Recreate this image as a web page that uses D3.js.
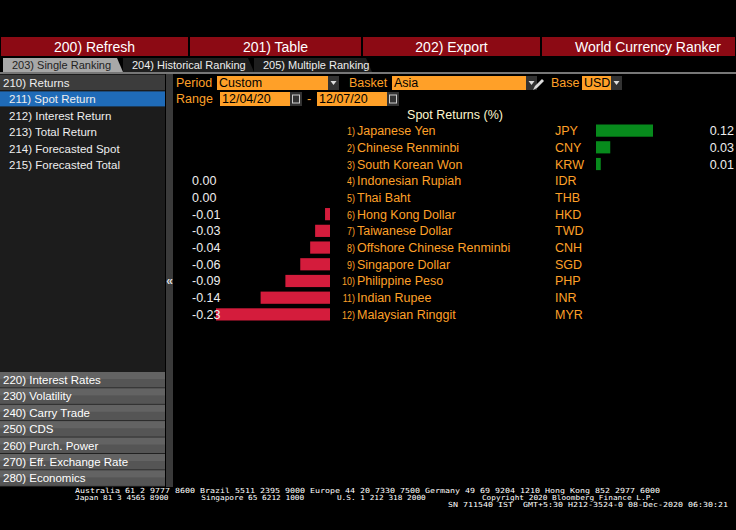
<!DOCTYPE html><html><head><meta charset="utf-8">
<script src="https://cdn.jsdelivr.net/npm/d3@7"></script>
<style>body{margin:0;background:#000}svg{display:block}text{font-family:"Liberation Sans",Arial,sans-serif}text.mono{font-family:"DejaVu Sans Mono",monospace}</style></head><body>
<svg id="c" width="736" height="530"></svg>
<script>
const ranks=["1)","2)","3)","4)","5)","6)","7)","8)","9)","10)","11)","12)"];
const names=["Japanese Yen","Chinese Renminbi","South Korean Won","Indonesian Rupiah","Thai Baht","Hong Kong Dollar","Taiwanese Dollar","Offshore Chinese Renminbi","Singapore Dollar","Philippine Peso","Indian Rupee","Malaysian Ringgit"];
const codes=["JPY","CNY","KRW","IDR","THB","HKD","TWD","CNH","SGD","PHP","INR","MYR"];
const values=[0.12,0.03,0.01,0.00,0.00,-0.01,-0.03,-0.04,-0.06,-0.09,-0.14,-0.23];
const labels=["0.12","0.03","0.01","0.00","0.00","-0.01","-0.03","-0.04","-0.06","-0.09","-0.14","-0.23"];
const topButtons=["200) Refresh","201) Table","202) Export","World Currency Ranker"];
const tabs=["203) Single Ranking","204) Historical Ranking","205) Multiple Ranking"];
const menuTop=["210) Returns","211) Spot Return","212) Interest Return","213) Total Return","214) Forecasted Spot","215) Forecasted Total"];
const menuBottom=["220) Interest Rates","230) Volatility","240) Carry Trade","250) CDS","260) Purch. Power","270) Eff. Exchange Rate","280) Economics"];

const svg=d3.select("#c");
const O="#ffa028";
const bx=[0,189,362,541,736];
topButtons.forEach((t,i)=>{
  svg.append("rect").attr("x",bx[i]+1).attr("y",37).attr("width",bx[i+1]-bx[i]-2).attr("height",19).attr("fill","#8c0a14");
  svg.append("text").attr("x",i==3?648:(bx[i]+bx[i+1])/2).attr("y",51.5).attr("text-anchor","middle").attr("fill","#fff").attr("font-size",14).text(t);
});
const tx=[3,123,254,372];
tabs.forEach((t,i)=>{
  svg.append("path").attr("d",`M${tx[i]},72V58H${tx[i+1]-6}L${tx[i+1]},72Z`).attr("fill",i==0?"#a8a8a8":"#1e1e1e");
  svg.append("text").attr("x",tx[i]+9).attr("y",69).attr("fill",i==0?"#222":"#eee").attr("font-size",11).text(t);
});
svg.append("rect").attr("x",0).attr("y",72).attr("width",736).attr("height",2).attr("fill","#777");
svg.append("rect").attr("x",0).attr("y",74).attr("width",165).attr("height",413).attr("fill","#1c1c1c");
svg.append("rect").attr("x",166).attr("y",74).attr("width",7).attr("height",413).attr("fill","#3a3a3a");
svg.append("text").attr("x",169.5).attr("y",285).attr("text-anchor","middle").attr("fill","#ddd").attr("font-size",12).attr("font-weight","bold").text("«");
menuTop.forEach((t,i)=>{
  const y=75+i*16.4;
  if(i==0)svg.append("rect").attr("x",0).attr("y",y).attr("width",165).attr("height",15).attr("fill","#3c3c3c");
  if(i==1)svg.append("rect").attr("x",0).attr("y",y).attr("width",165).attr("height",15).attr("fill","#1f6bb8");
  svg.append("text").attr("x",i==0?3:9).attr("y",y+12).attr("fill","#eee").attr("font-size",11.5).text(t);
});
menuBottom.forEach((t,i)=>{
  const y=372+i*16.4;
  svg.append("rect").attr("x",0).attr("y",y).attr("width",165).attr("height",15.5).attr("fill","#555");
  svg.append("rect").attr("x",0).attr("y",y).attr("width",165).attr("height",7).attr("fill","#636363");
  svg.append("text").attr("x",3).attr("y",y+12).attr("fill","#fff").attr("font-size",11.5).text(t);
});
function lbl(x,y,t,c){svg.append("text").attr("x",x).attr("y",y).attr("fill",c||O).attr("font-size",12.5).text(t);}
function box(x,w,y,t,dd){svg.append("rect").attr("x",x).attr("y",y-11).attr("width",w).attr("height",14).attr("fill",O);
  svg.append("text").attr("x",x+2).attr("y",y).attr("fill","#000").attr("font-size",12.5).text(t);
  if(dd){svg.append("rect").attr("x",x+w).attr("y",y-11).attr("width",11).attr("height",14).attr("fill","#333");
   svg.append("path").attr("d",`M${x+w+2.5},${y-6}h6l-3,4z`).attr("fill","#ddd");}}
lbl(176,87,"Period");box(217,111,87,"Custom",1);
lbl(349,87,"Basket");box(392,134,87,"Asia",1);
svg.append("path").attr("d","M533,90l2,-4l7,-7l2,2l-7,7z").attr("fill","#ddd");
lbl(551,87,"Base");box(582,29,87,"USD",1);
lbl(176,103,"Range");box(220,70,103,"12/04/20",0);
svg.append("rect").attr("x",290).attr("y",92).attr("width",12).attr("height",14).attr("fill","#333");
svg.append("rect").attr("x",292.5).attr("y",95).attr("width",7).attr("height",8).attr("fill","none").attr("stroke","#ccc");
lbl(307,103,"-");box(317,70,103,"12/07/20",0);
svg.append("rect").attr("x",387).attr("y",92).attr("width",12).attr("height",14).attr("fill","#333");
svg.append("rect").attr("x",389.5).attr("y",95).attr("width",7).attr("height",8).attr("fill","none").attr("stroke","#ccc");
svg.append("text").attr("x",455).attr("y",119).attr("text-anchor","middle").attr("fill","#fff8d0").attr("font-size",12.5).text("Spot Returns (%)");
const y=d3.scaleBand().domain(d3.range(values.length)).range([124.5,320.5]).paddingInner(0.27);
const neg=d3.scaleLinear().domain([-0.23,0]).range([216,330]);
const pos=d3.scaleLinear().domain([0,0.12]).range([596,653]);
values.forEach((v,i)=>{
  const yc=y(i)+y.bandwidth()/2;
  svg.append("text").attr("y",yc+4.5).attr("text-anchor","end").attr("fill",O).attr("font-size",10.5).attr("transform",`translate(${355*0.15},0) scale(0.85,1)`).attr("x",355).text(ranks[i]);
  svg.append("text").attr("x",357).attr("y",yc+4.5).attr("fill",O).attr("font-size",12.5).text(names[i]);
  svg.append("text").attr("x",555).attr("y",yc+4.5).attr("fill",O).attr("font-size",12.5).text(codes[i]);
  if(v>0){
    svg.append("rect").attr("x",pos(0)).attr("y",y(i)).attr("width",pos(v)-pos(0)).attr("height",y.bandwidth()).attr("fill","#078a1c");
    svg.append("text").attr("x",734).attr("y",yc+4.5).attr("text-anchor","end").attr("fill","#eee").attr("font-size",12.5).text(labels[i]);
  } else {
    if(v<0)svg.append("rect").attr("x",neg(v)).attr("y",y(i)).attr("width",neg(0)-neg(v)).attr("height",y.bandwidth()).attr("fill","#d41c3c");
    svg.append("text").attr("x",192).attr("y",yc+4.5).attr("fill","#eee").attr("font-size",12.5).text(labels[i]);
  }
});
const f=[["Australia 61 2 9777 8600 Brazil 5511 2395 9000 Europe 44 20 7330 7500 Germany 49 69 9204 1210 Hong Kong 852 2977 6000",75,493,585],
["Japan 81 3 4565 8900       Singapore 65 6212 1000       U.S. 1 212 318 2000            Copyright 2020 Bloomberg Finance L.P.",75,500,580],
["SN 711540 IST  GMT+5:30 H212-3524-0 08-Dec-2020 06:30:21",448,507,280]];
f.forEach(d=>svg.append("text").attr("class","mono").attr("x",d[1]).attr("y",d[2]).attr("fill","#fff").attr("font-size",7).attr("textLength",d[3]).attr("lengthAdjust","spacingAndGlyphs").style("white-space","pre").text(d[0]));
</script></body></html>
